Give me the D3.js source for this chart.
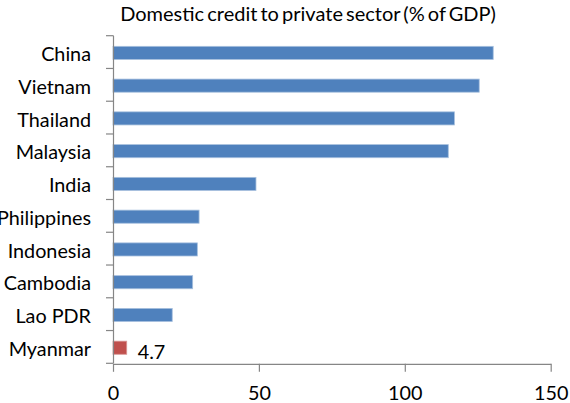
<!DOCTYPE html>
<html>
<head>
<meta charset="utf-8">
<script src="https://cdn.jsdelivr.net/npm/d3@7"></script>
<style>
  html, body { margin: 0; padding: 0; background: #fff; }
  svg { display: block; }
  text { font-family: Lato, "Open Sans", sans-serif; fill: #000; }
</style>
</head>
<body>
<svg id="chart" width="570" height="403"></svg>
<script>
// Domestic credit to the private sector, % of GDP
const countries = ["China", "Vietnam", "Thailand", "Malaysia", "India",
                   "Philippines", "Indonesia", "Cambodia", "Lao PDR", "Myanmar"];
const creditPct = [130.3, 125.5, 117.0, 114.9, 49.0, 29.5, 28.9, 27.3, 20.3, 4.7];
const xTicks = [0, 50, 100, 150];
const highlighted = "Myanmar";
const titleText = "Domestic credit to private sector (% of GDP)";

const rows = countries.map((c, i) => ({ country: c, value: creditPct[i] }));

const svg = d3.select("#chart");
const plot = { left: 113, right: 550.7, top: 35.7, bottom: 363.3 };
const fontSize = 19.8;

const x = d3.scaleLinear().domain([0, 150]).range([plot.left, plot.right]);
const y = d3.scaleBand().domain(countries)
  .range([plot.top, plot.bottom]).paddingInner(0.6).paddingOuter(0.3);

// title
svg.append("text")
  .attr("x", 308).attr("y", 21)
  .attr("text-anchor", "middle")
  .attr("font-size", 20)
  .attr("word-spacing", -2)
  .text(titleText);

// bars
svg.append("g").selectAll("rect").data(rows).join("rect")
  .attr("x", x(0))
  .attr("y", d => y(d.country) + 0.8)
  .attr("width", d => x(d.value) - x(0))
  .attr("height", y.bandwidth())
  .attr("fill", d => d.country === highlighted ? "#C0504D" : "#4F81BD")
  .attr("stroke", d => d.country === highlighted ? "#D99694" : "#A7C0DE")
  .attr("stroke-width", 0.8);

// value label for the highlighted bar
rows.filter(d => d.country === highlighted).forEach(d => {
  svg.append("text")
    .attr("x", x(d.value) + 11)
    .attr("y", y(d.country) + y.bandwidth() / 2 + 4)
    .attr("dominant-baseline", "central")
    .attr("font-size", fontSize)
    .text(d3.format(".1f")(d.value));
});

// vertical category axis: line, boundary ticks, labels
const axisColor = "#868686";
const yAxis = svg.append("g");
yAxis.append("line")
  .attr("x1", plot.left + 0.5).attr("x2", plot.left + 0.5)
  .attr("y1", plot.top).attr("y2", plot.bottom)
  .attr("stroke", axisColor).attr("stroke-width", 1.2);
const boundaries = d3.range(countries.length + 1).map(i => plot.top + i * y.step());
yAxis.selectAll("line.tick").data(boundaries).join("line")
  .attr("class", "tick")
  .attr("x1", plot.left - 7).attr("x2", plot.left + 0.5)
  .attr("y1", d => d).attr("y2", d => d)
  .attr("stroke", axisColor).attr("stroke-width", 1.2);
yAxis.selectAll("text").data(countries).join("text")
  .attr("x", 91)
  .attr("y", d => y(d) + y.bandwidth() / 2 + 1)
  .attr("text-anchor", "end")
  .attr("dominant-baseline", "central")
  .attr("font-size", fontSize)
  .text(d => d);

// horizontal value axis
const xAxis = svg.append("g")
  .attr("transform", `translate(0,${plot.bottom + 0.5})`)
  .call(d3.axisBottom(x).tickValues(xTicks).tickSize(8).tickPadding(14).tickSizeOuter(0));
xAxis.select(".domain").attr("stroke", axisColor).attr("stroke-width", 1.2);
xAxis.selectAll(".tick line").attr("stroke", axisColor).attr("stroke-width", 1.2);
xAxis.selectAll(".tick text")
  .attr("font-family", "Lato, 'Open Sans', sans-serif")
  .attr("font-size", fontSize)
  .attr("fill", "#000");
</script>
</body>
</html>
